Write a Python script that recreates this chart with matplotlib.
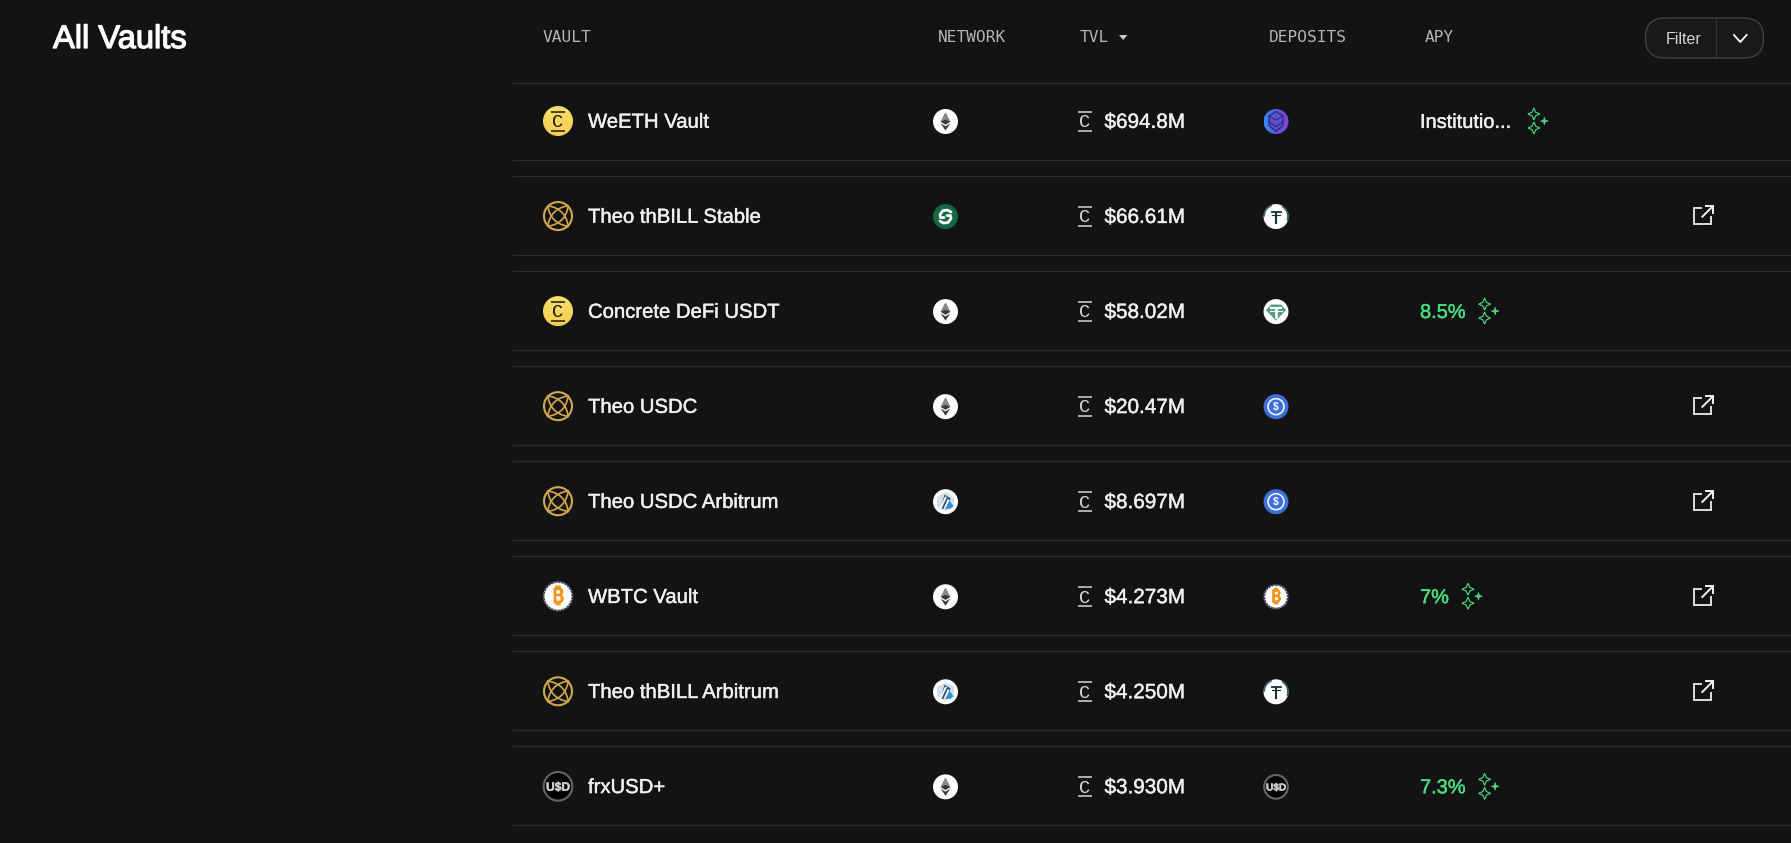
import numpy
import matplotlib
matplotlib.use('Agg')
import matplotlib.pyplot as plt
import matplotlib.patheffects as effects
from matplotlib.patches import Circle, FancyBboxPatch, Polygon, Arc

# ========================== DATA ==========================
HEADERS = ['VAULT', 'NETWORK', 'TVL', 'DEPOSITS', 'APY']
VAULTS = ['WeETH Vault', 'Theo thBILL Stable', 'Concrete DeFi USDT', 'Theo USDC',
          'Theo USDC Arbitrum', 'WBTC Vault', 'Theo thBILL Arbitrum', 'frxUSD+']
VAULT_ICONS = ['concrete', 'theo', 'concrete', 'theo', 'theo', 'btc', 'theo', 'usd']
NETWORKS = ['eth', 'sonic', 'eth', 'eth', 'arb', 'eth', 'arb', 'eth']
TVL = ['$694.8M', '$66.61M', '$58.02M', '$20.47M', '$8.697M', '$4.273M', '$4.250M', '$3.930M']
DEPOSITS = ['weeth', 'tether', 'usdt', 'usdc', 'usdc', 'btc', 'tether', 'usd']
APY = ['Institutio...', '', '8.5%', '', '', '7%', '', '7.3%']
EXTERNAL_LINK = [False, True, False, True, True, True, True, False]

# ========================== CONFIG ==========================
BG = '#131313'
LINE = '#2e2e2e'
GREEN = '#4ade80'
GOLD = '#d4a94e'
TEXT = '#f0f0f0'
FONT = 'Liberation Sans'
MONO = 'DejaVu Sans Mono'
W, H = 1791, 843
ROW_CENTER_0 = 121
ROW_PITCH = 95.05
COL_X = {'icon': 558, 'name': 588, 'net': 945.5, 'cee': 1085, 'tvl': 1104.5, 'dep': 1276, 'apy': 1420, 'link': 1703}
HEADER_X = [543, 938, 1080, 1269, 1425]

fig = plt.figure(figsize=(W / 100, H / 100), dpi=100, facecolor=BG)
ax = fig.add_axes([0, 0, 1, 1])
ax.set_xlim(0, W)
ax.set_ylim(H, 0)
ax.axis('off')


def label(x, y, text, color=TEXT, size=14.6, stroke=0.3, **kw):
    t = ax.text(x, y, text, color=color, family=FONT, fontsize=size, ha=kw.pop('ha', 'left'), va='baseline', zorder=5, **kw)
    if stroke:
        t.set_path_effects([effects.withStroke(linewidth=stroke, foreground=color)])
    return t


def disc(x, y, r, color, **kw):
    ax.add_patch(Circle((x, y), r, facecolor=color, edgecolor=kw.pop('ec', 'none'), **kw))


def gradient_disc(x, y, r, stops, horizontal=False):
    cmap = matplotlib.colors.LinearSegmentedColormap.from_list('g', stops)
    grad = numpy.linspace(0, 1, 64).reshape(-1, 1)
    if horizontal:
        grad = grad.T
    im = ax.imshow(grad, extent=(x - r, x + r, y + r, y - r), cmap=cmap, aspect='auto', zorder=2)
    im.set_clip_path(Circle((x, y), r, transform=ax.transData))


def cee(x, y, color):
    # the barred Concrete letter
    ax.plot([x - 7.2, x + 7.2], [y - 9.5, y - 9.5], color=color, lw=1.1, solid_capstyle='butt', zorder=4)
    ax.plot([x - 7.2, x + 7.2], [y + 9.5, y + 9.5], color=color, lw=1.1, solid_capstyle='butt', zorder=4)
    ax.text(x, y + 6, 'C', color=color, family='Liberation Mono', fontsize=13.5, ha='center', va='baseline', zorder=4)


def theo(x, y, r):
    ax.add_patch(Circle((x, y), r - 1, fill=False, ec=GOLD, lw=1.5, zorder=3))
    t = numpy.linspace(-1, 1, 24)
    reach = 0.68 * r
    for dx, dy in [(1, 1), (1, -1)]:
        for bow in (0.36 * r, -0.36 * r):
            # two curved leaves crossing in the middle of the ring
            off = bow * (1 - t ** 2)
            ax.plot(x + dx * reach * t - dy * off * 0.7, y + dy * reach * t + dx * off * 0.7,
                    color=GOLD, lw=1.2, zorder=3)


def eth(x, y, r):
    disc(x, y, r, 'white', zorder=2)
    s = r / 12.5
    ax.add_patch(Polygon([(x, y - 9 * s), (x + 4.8 * s, y + 0.3 * s), (x, y + 3.2 * s), (x - 4.8 * s, y + 0.3 * s)],
                         fc='#3a3a3a', ec='none', zorder=3))
    ax.add_patch(Polygon([(x, y - 9 * s), (x + 4.8 * s, y + 0.3 * s), (x, y - 2 * s), (x - 4.8 * s, y + 0.3 * s)],
                         fc='#8a8a8a', ec='none', zorder=3))
    ax.add_patch(Polygon([(x - 4.8 * s, y + 1.8 * s), (x, y + 4.8 * s), (x + 4.8 * s, y + 1.8 * s), (x, y + 9 * s)],
                         fc='#3a3a3a', ec='none', zorder=3))


def sonic(x, y, r):
    disc(x, y, r, '#12693f', zorder=2)
    ax.plot([x + 5.5, x + 2, x - 2.5, x - 5.5, x - 5, x - 1.5], [y - 4.5, y - 6.5, y - 6, y - 2, y + 1, y + 1],
            color='white', lw=2.0, zorder=3, solid_capstyle='round')
    ax.plot([x + 1.5, x + 5, x + 5.5, x + 2.5, x - 2, x - 5.5], [y - 1, y - 1, y + 2, y + 6, y + 6.5, y + 4.5],
            color='white', lw=2.0, zorder=3, solid_capstyle='round')


def arb(x, y, r):
    disc(x, y, r, 'white', zorder=2)
    hexagon = [(x, y - 9.5), (x + 8.5, y - 4.5), (x + 8.5, y + 4.5), (x, y + 9.5), (x - 8.5, y + 4.5), (x - 8.5, y - 4.5)]
    ax.add_patch(Polygon(hexagon, fc='#cfe0ee', ec='none', zorder=3))
    ax.add_patch(Polygon([(x - 1, y - 7), (x + 5, y - 3.5), (x + 1, y + 7), (x - 5, y + 7)], fc='#24527c', ec='none', zorder=4))
    ax.add_patch(Polygon([(x + 1, y + 7), (x + 4, y - 1), (x + 8, y + 4.5), (x + 5, y + 7)], fc='#2a8fe0', ec='none', zorder=4))
    ax.add_patch(Polygon([(x - 6, y + 7), (x - 0.5, y - 5), (x + 1.5, y - 5), (x - 4, y + 7)], fc='white', ec='none', zorder=5))
    ax.add_patch(Polygon([(x - 2, y + 7), (x + 2.5, y - 3), (x + 3.8, y - 1), (x, y + 7)], fc='white', ec='none', zorder=5))


def btc(x, y, r):
    disc(x, y, r - 0.5, 'white', zorder=2)
    ax.add_patch(Circle((x, y), r - 0.6, fill=False, ec='#45455c', lw=1.5, ls=(0, (1.2, 0.4)), zorder=3))
    t = ax.text(x, y + r * 0.44, '\u20bf', color='#f7931a', family=['Noto Sans', 'Inter', 'Roboto', 'Open Sans', 'Lato', 'DejaVu Sans'],
                fontsize=r * 1.0, fontweight='bold', ha='center', va='baseline', zorder=4)
    t.set_path_effects([effects.withStroke(linewidth=0.7, foreground='#f7931a')])


def usd(x, y, r):
    disc(x, y, r - 0.7, 'black', ec='#666666', lw=1.5, zorder=2)
    t = ax.text(x, y + r * 0.29, 'U$D', color='#cfcfcf', family=FONT, fontsize=r * 0.58, fontweight='bold',
                ha='center', va='baseline', zorder=3)
    t.set_path_effects([effects.withStroke(linewidth=0.3, foreground='#cfcfcf')])


def tether(x, y, r):
    disc(x, y, r, 'white', zorder=2)
    ax.add_patch(Arc((x, y), 2 * r - 1, 2 * r - 1, theta1=-60, theta2=20, ec='#2f5f66', lw=1.2, zorder=3))
    ax.add_patch(Arc((x, y), 2 * r - 1, 2 * r - 1, theta1=180, theta2=250, ec='#2f5f66', lw=1.2, zorder=3))
    ax.plot([x - 4.5, x + 4.5], [y - 5, y - 5], color='#17343a', lw=1.3, zorder=3)
    ax.plot([x, x], [y - 5, y + 6.5], color='#17343a', lw=1.5, zorder=3)
    ax.plot([x - 4, x + 4], [y - 1.5, y - 1.5], color='#17343a', lw=0.8, zorder=3)


def usdt(x, y, r):
    disc(x, y, r, 'white', zorder=2)
    ax.add_patch(Polygon([(x - 5, y - 7), (x + 5, y - 7), (x + 10, y - 1.5), (x, y + 9), (x - 10, y - 1.5)], fc='#4f9c87', ec='none', zorder=3))
    ax.plot([x - 5, x + 5], [y - 4, y - 4], color='white', lw=1.6, zorder=4)
    ax.plot([x, x], [y - 4, y + 5], color='white', lw=1.9, zorder=4)
    ax.plot([x - 6, x + 6], [y - 1, y - 1], color='white', lw=0.8, zorder=4)


def usdc(x, y, r):
    disc(x, y, r, '#3f6fdc', zorder=2)
    ax.add_patch(Circle((x, y), r - 4.5, fill=False, ec='white', lw=1.1, zorder=3))
    ax.text(x, y + 3, '$', color='white', family=FONT, fontsize=7.5, fontweight='bold', ha='center', va='baseline', zorder=3)


def weeth(x, y, r):
    gradient_disc(x, y, r, ['#2f8ff0', '#5f55e0', '#8a3fd0'], horizontal=True)
    ax.add_patch(Polygon([(x, y - 10), (x + 7, y - 5.5), (x + 7, y + 4), (x, y + 10), (x - 7, y + 4), (x - 7, y - 5.5)],
                         fc='#5a50c8', ec='#2c2a80', lw=0.9, zorder=3))
    ax.plot([x - 7, x, x + 7], [y + 0.5, y + 5, y + 0.5], color='#2c2a80', lw=0.9, zorder=4)
    ax.plot([x - 7, x, x + 7], [y - 5.5, y - 1.5, y - 5.5], color='#2c2a80', lw=0.7, zorder=4)


def concrete(x, y, r):
    gradient_disc(x, y, r, ['#f8de6e', '#f4cf4e'])
    cee(x, y, '#1c1a10')


def external_link(x, y):
    ax.plot([x - 2, x - 8.7, x - 8.7, x + 7.7, x + 7.7], [y - 7.7, y - 7.7, y + 8.3, y + 8.3, y + 1.2],
            color='#dedede', lw=1.4, zorder=3, solid_joinstyle='miter')
    ax.plot([x - 0.7, x + 9.5], [y + 0.7, y - 9.5], color='#f2f2f2', lw=1.4, zorder=3)
    ax.plot([x + 3, x + 10, x + 10], [y - 10, y - 10, y - 3], color='#f2f2f2', lw=1.4, zorder=3, solid_joinstyle='miter')


def star(x, y, r, filled):
    pts = []
    for k in range(8):
        a = numpy.pi * k / 4
        rad = r if k % 2 == 0 else r * (0.32 if filled else 0.42)
        pts.append((x + rad * numpy.cos(a), y + rad * numpy.sin(a)))
    ax.add_patch(Polygon(pts, fc=GREEN if filled else BG, ec=GREEN, lw=0.8 if not filled else 0.5, zorder=3))


def sparkle(x, y):
    star(x, y - 7, 6, False)
    star(x, y + 7, 6, False)
    star(x + 10.5, y, 3.8, True)


ICONS = {'concrete': concrete, 'theo': theo, 'btc': btc, 'usd': usd, 'eth': eth, 'sonic': sonic,
         'arb': arb, 'tether': tether, 'usdt': usdt, 'usdc': usdc, 'weeth': weeth}

# title and header
label(53, 48, 'All Vaults', color='white', size=23.5, stroke=0.9)
for text, x in zip(HEADERS, HEADER_X):
    ax.text(x, 42.3, text, color='#b5b5b5', family=MONO, fontsize=11.6, ha='left', va='baseline')
ax.add_patch(Polygon([(1119, 35), (1127.5, 35), (1123.2, 40)], fc='#c8c8c8', ec='none'))

# filter button
ax.add_patch(FancyBboxPatch((1645.5 + 19.5, 18 + 19.5), 118 - 39, 40 - 39, boxstyle='round,pad=19.5,rounding_size=19.5',
                            fc='#191919', ec='#454545', lw=0.9))
ax.plot([1716, 1716], [18, 58], color='#363636', lw=0.8)
label(1666, 44, 'Filter', color='#d5d5d5', size=11.5, stroke=0)
ax.plot([1734, 1740.3, 1746.6], [35, 42, 35], color='white', lw=1.3)

# rows
ax.plot([513, W], [83, 83], color=LINE, lw=0.9)
for i, name in enumerate(VAULTS):
    y = ROW_CENTER_0 + i * ROW_PITCH
    ax.plot([513, W], [y + 38.8, y + 38.8], color=LINE, lw=0.9)
    if i < len(VAULTS) - 1:
        ax.plot([513, W], [y + 55, y + 55], color=LINE, lw=0.9)
    ICONS[VAULT_ICONS[i]](COL_X['icon'], y, 15)
    label(COL_X['name'], y + 6.7, name)
    ICONS[NETWORKS[i]](COL_X['net'], y + 0.5, 12.5)
    cee(COL_X['cee'], y + 0.3, '#d8d8d8')
    label(COL_X['tvl'], y + 6.9, TVL[i], size=14.9)
    ICONS[DEPOSITS[i]](COL_X['dep'], y + 0.5, 12.5)
    if APY[i]:
        is_pct = APY[i].endswith('%')
        t = label(COL_X['apy'], y + 6.9, APY[i], color=GREEN if is_pct else TEXT, size=14.4)
        fig.canvas.draw()
        right = ax.transData.inverted().transform(t.get_window_extent().get_points())[1, 0]
        sparkle(right + (19 if is_pct else 23), y)
    if EXTERNAL_LINK[i]:
        external_link(COL_X['link'], y)

fig.savefig('out.png', dpi=100, facecolor=BG)
